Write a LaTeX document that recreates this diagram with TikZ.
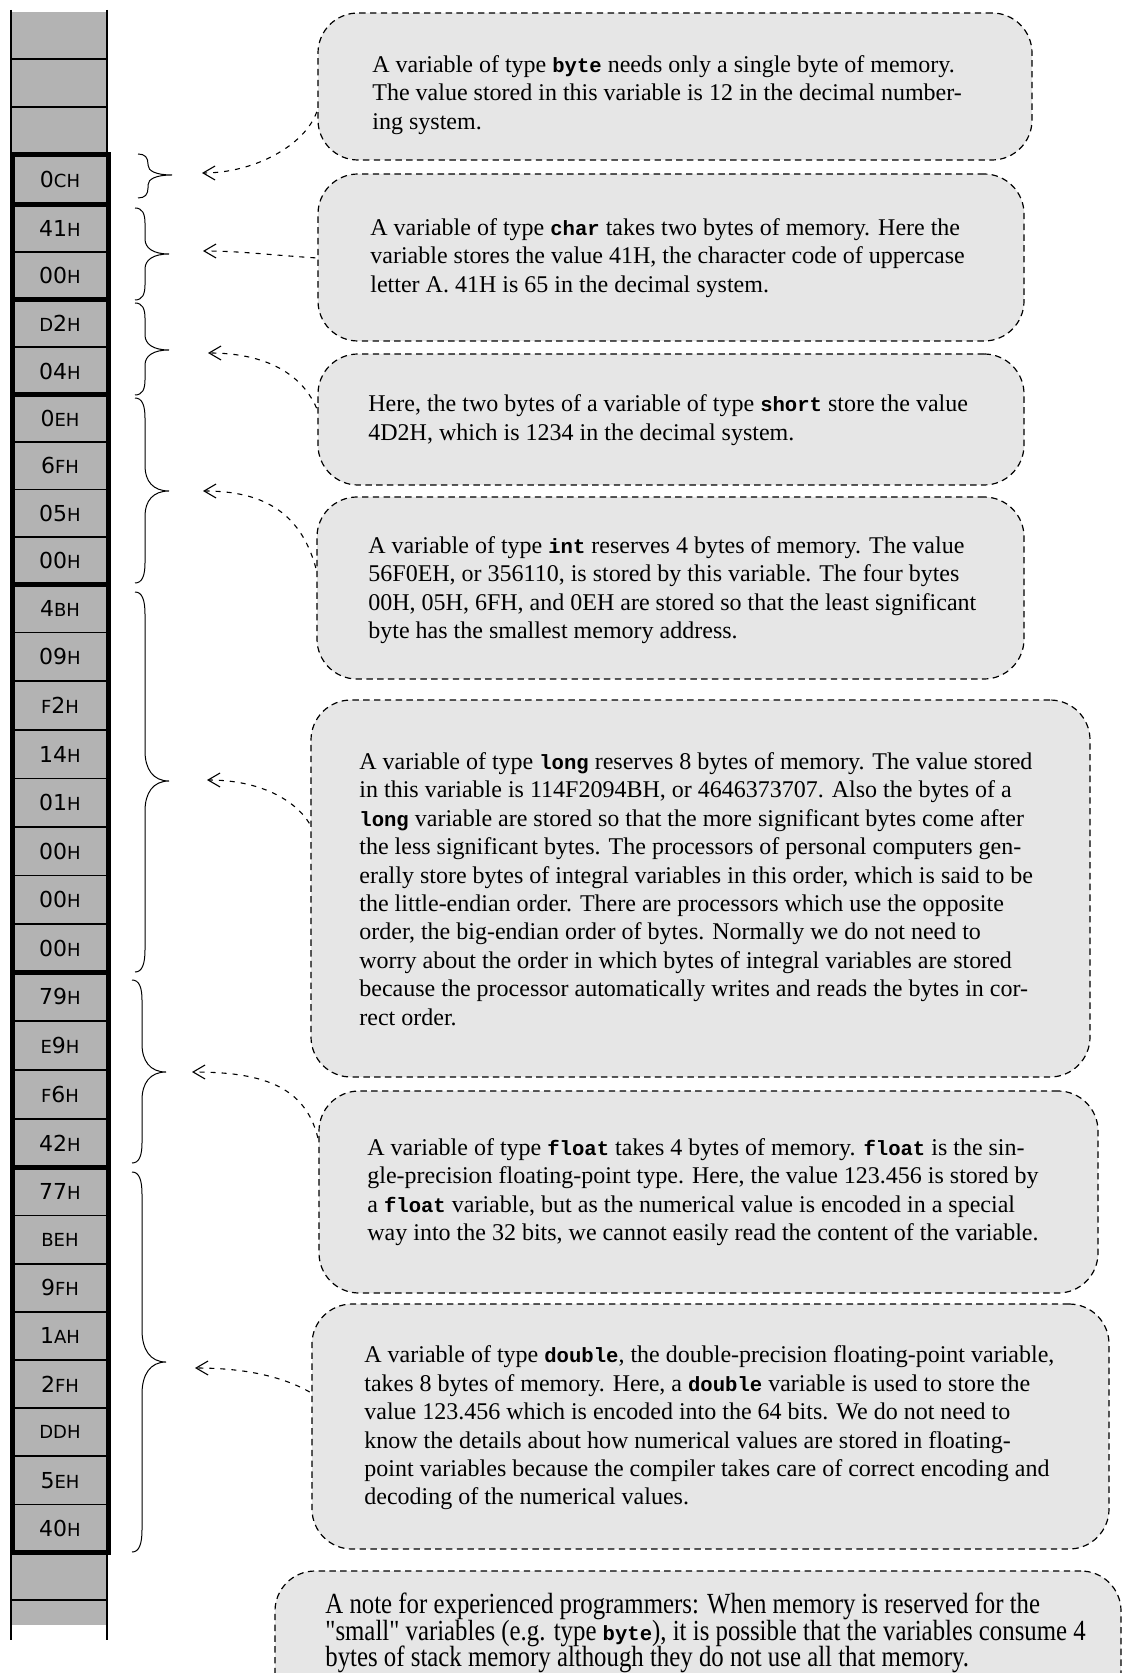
\documentclass[tikz,border=0pt]{standalone}
\usepackage{fontspec}
\setmainfont{Liberation Serif}
\setmonofont{Liberation Mono}
\newfontfamily\labfont{DejaVu Sans}
\newfontfamily\condfont{Liberation Serif}[FakeStretch=0.85]
\usetikzlibrary{arrows.meta,fit}
\definecolor{memgray}{HTML}{B3B3B3}
\definecolor{boxgray}{HTML}{E6E6E6}
\newcommand\code[1]{{\fontsize{10.3}{10}\selectfont\texttt{\bfseries #1}}}
\newcommand\sm[1]{{\fontsize{9}{9}\selectfont #1}}
\newcommand\tightlines{\lineskiplimit=-20pt\relax}
\newcommand\notefont{\condfont\fontsize{14.6}{13.3}\selectfont\tightlines}
% #1 x of ends, #2 top, #3 bottom, #4 tip y, #5 end curl, #6 tip curl
\newcommand\membrace[6]{%
  \draw[brc] (#1,#2) .. controls (#1+7,#2) and (#1+10,#2+0.35*#5) .. (#1+10,#2+#5)
    -- (#1+10,#4-#6) .. controls (#1+10,#4-0.4*#6) and (#1+18,#4) .. (#1+34,#4)
    .. controls (#1+18,#4) and (#1+10,#4+0.4*#6) .. (#1+10,#4+#6)
    -- (#1+10,#3-#5) .. controls (#1+10,#3-0.35*#5) and (#1+7,#3) .. (#1,#3);}
\tikzset{
  notebox/.style={draw, dash pattern=on 3.2pt off 2.2pt, line width=0.6pt,
    fill=boxgray, rounded corners=20pt, inner sep=0pt},
  txt/.style={align=left, inner sep=0pt, anchor=west,
    font=\fontsize{12}{14.2}\selectfont},
  conn/.style={dash pattern=on 2.5pt off 3pt, line width=0.55pt,
    -{Straight Barb[length=6pt,width=7pt]}, shorten <=1pt},
  brc/.style={line width=0.5pt},
  cell/.style={inner sep=0pt, font=\labfont\fontsize{11}{11}\selectfont},
  thinsep/.style={line width=0.8pt},
  grp/.style={line width=2.5pt},
}
\begin{document}
\begin{tikzpicture}[x=0.5pt,y=-0.5pt]
\useasboundingbox (0,0) rectangle (1122,1673);

% ---------- memory column ----------
\fill[memgray] (12,12) rectangle (106,1625);
\draw[line width=1pt] (11,10) -- (11,156) (106.5,10) -- (106.5,156);
\draw[line width=1pt] (11,1550) -- (11,1640) (106.5,1550) -- (106.5,1640);
\foreach \yy in {59,107,252,347.25,442.25,489.5,536.75,632.6,681.1,729.7,778.3,826.8,875.4,923.9,1021.25,1070,1118.75,1215.6,1263.75,1311.9,1360,1408.1,1456.25,1504.4,1600}
  \draw[thinsep] (12,\yy) -- (106,\yy);
\foreach \ta/\tb in {154.5/204.5,204.5/299.5,299.5/395,395/584,584/972.5,972.5/1167.5,1167.5/1552.5}
  \draw[grp] (12.5,\ta) rectangle (108,\tb);

\node[cell] (c0) at (60,179.5) {0\sm{CH}};
\node[cell] (c1) at (60,228.25) {41\sm{H}};
\node[cell] (c2) at (60,275.75) {00\sm{H}};
\node[cell] (c3) at (60,323.4) {\sm{D}2\sm{H}};
\node[cell] (c4) at (60,371.1) {04\sm{H}};
\node[cell] (c5) at (60,418.6) {0\sm{EH}};
\node[cell] (c6) at (60,465.9) {6\sm{FH}};
\node[cell] (c7) at (60,513.1) {05\sm{H}};
\node[cell] (c8) at (60,560.4) {00\sm{H}};
\node[cell] (c9) at (60,608.3) {4\sm{BH}};
\node[cell] (c10) at (60,656.8) {09\sm{H}};
\node[cell] (c11) at (60,705.4) {\sm{F}2\sm{H}};
\node[cell] (c12) at (60,754.0) {14\sm{H}};
\node[cell] (c13) at (60,802.5) {01\sm{H}};
\node[cell] (c14) at (60,851.1) {00\sm{H}};
\node[cell] (c15) at (60,899.7) {00\sm{H}};
\node[cell] (c16) at (60,948.2) {00\sm{H}};
\node[cell] (c17) at (60,996.9) {79\sm{H}};
\node[cell] (c18) at (60,1045.6) {\sm{E}9\sm{H}};
\node[cell] (c19) at (60,1094.4) {\sm{F}6\sm{H}};
\node[cell] (c20) at (60,1143.1) {42\sm{H}};
\node[cell] (c21) at (60,1191.6) {77\sm{H}};
\node[cell] (c22) at (60,1239.7) {\sm{BEH}};
\node[cell] (c23) at (60,1287.8) {9\sm{FH}};
\node[cell] (c24) at (60,1335.9) {1\sm{AH}};
\node[cell] (c25) at (60,1384.1) {2\sm{FH}};
\node[cell] (c26) at (60,1432.2) {\sm{DDH}};
\node[cell] (c27) at (60,1480.3) {5\sm{EH}};
\node[cell] (c28) at (60,1528.4) {40\sm{H}};

% ---------- braces ----------
\membrace{138}{154}{198}{175}{10}{10}
\membrace{135}{208}{300}{254}{15}{15}
\membrace{135}{303}{395}{350}{15}{15}
\membrace{135}{398}{583}{491}{20}{25}
\membrace{135}{592}{972}{781}{22}{30}
\membrace{132}{980}{1163}{1072}{20}{28}
\membrace{132}{1172}{1552}{1362}{22}{32}

% ---------- boxes ----------
\node[notebox, fit={(318,13) (1032,160)}] (b1) {};
\node[notebox, fit={(318,174) (1024,341)}] (b2) {};
\node[notebox, fit={(318,354) (1024,485)}] (b3) {};
\node[notebox, fit={(317,497) (1024,679)}] (b4) {};
\node[notebox, fit={(311,700) (1090,1077)}] (b5) {};
\node[notebox, fit={(319,1091) (1098,1293)}] (b6) {};
\node[notebox, fit={(312,1304) (1109,1549)}] (b7) {};
\node[notebox, fit={(275,1571) (1121,1720)}] (b8) {};

\node[txt] (t1) at (372,95) {A variable of type \code{byte} needs only a single byte of memory.\\
The value stored in this variable is 12 in the decimal number-\\
ing system.};
\node[txt] (t2) at (370,258) {A variable of type \code{char} takes two bytes of memory. Here the\\
variable stores the value 41H, the character code of uppercase\\
letter A. 41H is 65 in the decimal system.};
\node[txt] (t3) at (368,420) {Here, the two bytes of a variable of type \code{short} store the value\\
4D2H, which is 1234 in the decimal system.};
\node[txt] (t4) at (368,590) {A variable of type \code{int} reserves 4 bytes of memory. The value\\
56F0EH, or 356110, is stored by this variable. The four bytes\\
00H, 05H, 6FH, and 0EH are stored so that the least significant\\
byte has the smallest memory address.};
\node[txt] (t5) at (359,889) {A variable of type \code{long} reserves 8 bytes of memory. The value stored\\
in this variable is 114F2094BH, or 4646373707. Also the bytes of a\\
\code{long} variable are stored so that the more significant bytes come after\\
the less significant bytes. The processors of personal computers gen-\\
erally store bytes of integral variables in this order, which is said to be\\
the little-endian order. There are processors which use the opposite\\
order, the big-endian order of bytes. Normally we do not need to\\
worry about the order in which bytes of integral variables are stored\\
because the processor automatically writes and reads the bytes in cor-\\
rect order.};
\node[txt] (t6) at (367,1192) {A variable of type \code{float} takes 4 bytes of memory. \code{float} is the sin-\\
gle-precision floating-point type. Here, the value 123.456 is stored by\\
a \code{float} variable, but as the numerical value is encoded in a special\\
way into the 32 bits, we cannot easily read the content of the variable.};
\node[txt] (t7) at (364,1428) {A variable of type \code{double}, the double-precision floating-point variable,\\
takes 8 bytes of memory. Here, a \code{double} variable is used to store the\\
value 123.456 which is encoded into the 64 bits. We do not need to\\
know the details about how numerical values are stored in floating-\\
point variables because the compiler takes care of correct encoding and\\
decoding of the numerical values.};
\node[txt, font=\notefont] (t8) at (325,1633) {A note for experienced programmers: When memory is reserved for the\\
"small" variables (e.g. type \code{byte}), it is possible that the variables consume 4\\
bytes of stack memory although they do not use all that memory.};

% ---------- connectors ----------
\coordinate (p1) at (202,173);
\coordinate (p2) at (203,251);
\coordinate (p3) at (208,353);
\coordinate (p4) at (203,491);
\coordinate (p5) at (207,780);
\coordinate (p6) at (192,1072);
\coordinate (p7) at (195,1368);
\draw[conn] (b1.west |- 0,110) .. controls (305,145) and (255,173) .. (p1);
\draw[conn] (b2.west |- 0,258) .. controls (270,255) and (240,251) .. (p2);
\draw[conn] (b3.west |- 0,410) .. controls (300,370) and (260,353) .. (p3);
\draw[conn] (b4.west |- 0,570) .. controls (300,510) and (260,491) .. (p4);
\draw[conn] (b5.west |- 0,825) .. controls (295,800) and (260,780) .. (p5);
\draw[conn] (b6.west |- 0,1140) .. controls (305,1085) and (260,1072) .. (p6);
\draw[conn] (b7.west |- 0,1393) .. controls (280,1375) and (240,1368) .. (p7);
\end{tikzpicture}
\end{document}
